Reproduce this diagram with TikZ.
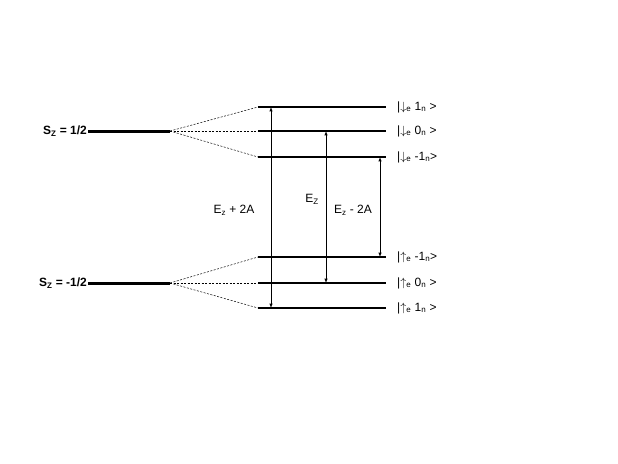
\documentclass[tikz,border=0pt]{standalone}
\usepackage{fontspec}
\setmainfont{Liberation Sans}
\usepackage{amsmath}
\begin{document}
\begin{tikzpicture}[x=1pt,y=-1pt,
  lvl/.style={line width=1.6pt},
  big/.style={line width=3pt},
  split/.style={dashed,line width=0.5pt,dash pattern=on 2pt off 1.5pt},
  tr/.style={<->,>=latex,line width=0.5pt},
  lab/.style={font=\fontsize{12}{14}\selectfont,inner sep=1pt},
  ket/.style={lab,anchor=west}]
\useasboundingbox (0,0) rectangle (618,463);
\foreach \n/\y in {u1/107,u0/131,um/157,lm/257,l0/283,l1/308}{
  \coordinate (\n L) at (258,\y); \coordinate (\n R) at (386,\y);
  \draw[lvl] (\n L) -- (\n R);}
\coordinate (SuL) at (88,131); \coordinate (SuR) at (170,131);
\coordinate (SdL) at (88,283); \coordinate (SdR) at (170,283);
\draw[big] (SuL) -- (SuR); \draw[big] (SdL) -- (SdR);
\foreach \n in {u1,u0,um} \draw[split] (SuR) -- (\n L);
\foreach \n in {lm,l0,l1} \draw[split] (SdR) -- (\n L);
\node[lab,anchor=east] (su) at (SuL) {\textbf{S\textsubscript{Z} = 1/2}};
\node[lab,anchor=east] (sd) at (SdL) {\textbf{S\textsubscript{Z} = -1/2}};
\coordinate (a1) at (271,107); \coordinate (a2) at (271,308);
\coordinate (b1) at (326,131); \coordinate (b2) at (326,283);
\coordinate (c1) at (380,157); \coordinate (c2) at (380,257);
\draw[tr] (a1) -- (a2); \draw[tr] (b1) -- (b2); \draw[tr] (c1) -- (c2);
\node[lab] (ea) at (234,210) {E\textsubscript{z} + 2A};
\node[lab] (eb) at (312,199) {E\textsubscript{Z}};
\node[lab] (ec) at (353,210) {E\textsubscript{z} - 2A};
\node[ket] (k1) at (396,107) {|$\downarrow$\textsubscript{e} 1\textsubscript{n} >};
\node[ket] (k2) at (396,131) {|$\downarrow$\textsubscript{e} 0\textsubscript{n} >};
\node[ket] (k3) at (396,157) {|$\downarrow$\textsubscript{e} -1\textsubscript{n}>};
\node[ket] (k4) at (396,257) {|$\uparrow$\textsubscript{e} -1\textsubscript{n}>};
\node[ket] (k5) at (396,283) {|$\uparrow$\textsubscript{e} 0\textsubscript{n} >};
\node[ket] (k6) at (396,308) {|$\uparrow$\textsubscript{e} 1\textsubscript{n} >};
\end{tikzpicture}
\end{document}
